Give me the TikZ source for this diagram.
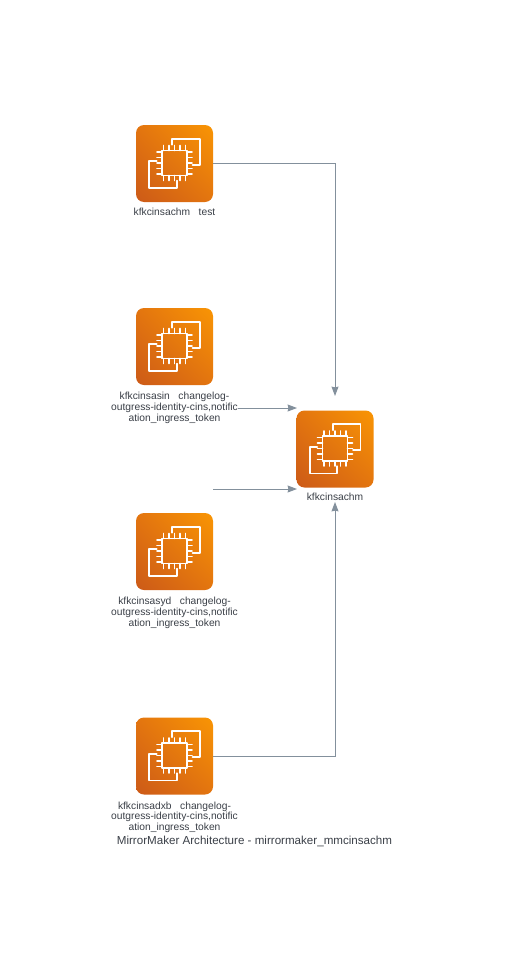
\documentclass[tikz,border=0pt]{standalone}
\usepackage{fontspec}
\setmainfont{Liberation Sans}
\usetikzlibrary{arrows.meta,shadings}
\definecolor{linec}{HTML}{83909C}
\definecolor{textc}{HTML}{3A3F47}
\definecolor{ogA}{HTML}{CC5A18}
\definecolor{ogB}{HTML}{F99504}
\definecolor{ogM}{HTML}{E3750F}
\tikzset{
 x=0.75pt,y=-0.75pt,
 iconbox/.style={minimum size=57.75pt,inner sep=0pt,outer sep=0pt},
 lbl/.style={font=\fontsize{7.7}{8}\selectfont,text=textc,align=center,inner sep=0pt,anchor=north},
 ttl/.style={font=\fontsize{8.7}{11}\selectfont,text=textc,inner sep=0pt},
 conn/.style={draw=linec,line width=0.75pt,-{Stealth[length=7pt,width=5.2pt,inset=0.5pt]}},
 wht/.style={draw=white,line width=1.4pt,line join=round,line cap=round},
 pics/ec2/.style={code={
  \shade[rounded corners=6pt,lower left=ogA,upper right=ogB,upper left=ogM,lower right=ogM]
    (-38.5,-38.5) rectangle (38.5,38.5);
  \draw[wht] (-2.2,-18.8) -- (-2.2,-24.8) -- (25.5,-24.8) -- (25.5,1.2) -- (18,1.2);
  \draw[wht] (-17.8,-2.2) -- (-25.2,-2.2) -- (-25.2,24.5) -- (2.2,24.5) -- (2.2,17.2);
  \draw[wht] (-12.5,-13) rectangle (12.5,12);
  \foreach \t in {-11,-5.5,0,5.5,11}{
   \draw[wht,line width=1.2pt] (\t,-13) -- (\t,-18);
   \draw[wht,line width=1.2pt] (\t,12) -- (\t,17);
   \draw[wht,line width=1.2pt] (-12.5,\t-0.5) -- (-17.5,\t-0.5);
   \draw[wht,line width=1.2pt] (12.5,\t-0.5) -- (17.5,\t-0.5);
  }
 }}
}
\begin{document}
\begin{tikzpicture}
\useasboundingbox (0,0) rectangle (510,960);
\pic at (174.5,163.5) {ec2};
\pic at (174.5,346.5) {ec2};
\pic at (174.5,551.5) {ec2};
\pic at (174.5,756) {ec2};
\pic at (335,449) {ec2};
\node[iconbox] (test) at (174.5,163.5) {};
\node[iconbox] (asin) at (174.5,346.5) {};
\node[iconbox] (syd) at (174.5,551.5) {};
\node[iconbox] (adxb) at (174.5,756) {};
\node[iconbox] (main) at (335,449) {};
\coordinate (asinS) at (213,408);
\coordinate (asinT) at (297,408);
\coordinate (sydS) at (213,489);
\coordinate (sydT) at (297,489);
\coordinate (mainN) at (335,396);
\coordinate (mainS) at (335,502);
\draw[conn] (test.east) -| (mainN);
\draw[conn] (asinS) -- (asinT);
\draw[conn] (sydS) -- (sydT);
\draw[conn] (adxb.east) -| (mainS);
\node[lbl] (ltest) at (174.5,208) {kfkcinsachm\ \ \ test};
\node[lbl,fill=white] (lasin) at (174.5,392) {kfkcinsasin\ \ \ changelog-\\outgress-identity-cins,notific\\ation\_ingress\_token};
\node[lbl] (lsyd) at (174.5,597) {kfkcinsasyd\ \ \ changelog-\\outgress-identity-cins,notific\\ation\_ingress\_token};
\node[lbl] (ladxb) at (174.5,801.5) {kfkcinsadxb\ \ \ changelog-\\outgress-identity-cins,notific\\ation\_ingress\_token};
\node[lbl] (lmain) at (335,493) {kfkcinsachm};
\node[ttl] (title) at (254.5,841) {MirrorMaker Architecture - mirrormaker\_mmcinsachm};
\end{tikzpicture}
\end{document}
